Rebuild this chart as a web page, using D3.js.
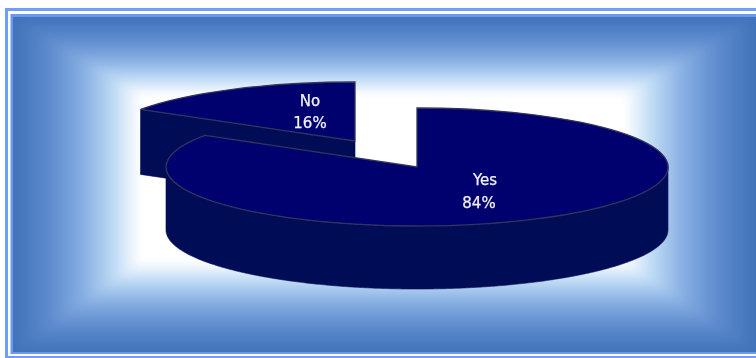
<!DOCTYPE html>
<html><head><meta charset="utf-8">
<script src="https://cdn.jsdelivr.net/npm/d3@7"></script>
<style>html,body{margin:0;padding:0;background:#fff;overflow:hidden}svg{display:block}</style>
</head><body>
<svg id="c" width="756" height="358"></svg>
<script>
const categories = ["Yes", "No"];
const seriesValues = [84, 16];
const percentLabels = ["84%", "16%"];

const svg = d3.select("#c");
const defs = svg.append("defs");
const inner = {x0: 13, y0: 17, x1: 756, y1: 352};
const glow = {x0: 140, y0: 95, x1: 625, y1: 262};
const stops = [[0, "#3f72b8"], [0.3, "#5f8ccf"], [0.55, "#86aee2"], [0.8, "#c0dcf6"], [1, "#ffffff"]];
function grad(id, x1, y1, x2, y2) {
  const g = defs.append("linearGradient").attr("id", id).attr("gradientUnits", "userSpaceOnUse")
    .attr("x1", x1).attr("y1", y1).attr("x2", x2).attr("y2", y2);
  stops.forEach(s => g.append("stop").attr("offset", s[0]).attr("stop-color", s[1]));
}
grad("gT", 0, inner.y0, 0, glow.y0);
grad("gB", 0, inner.y1, 0, glow.y1);
grad("gL", inner.x0, 0, glow.x0, 0);
grad("gR", inner.x1, 0, glow.x1, 0);
defs.append("filter").attr("id", "soft").append("feGaussianBlur").attr("stdDeviation", 0.45);
defs.append("filter").attr("id", "wide").attr("filterUnits", "userSpaceOnUse")
  .attr("x", -40).attr("y", -40).attr("width", 840).attr("height", 440)
  .append("feGaussianBlur").attr("stdDeviation", 5);
defs.append("clipPath").attr("id", "panel").append("rect")
  .attr("x", inner.x0).attr("y", inner.y0).attr("width", inner.x1 - inner.x0).attr("height", inner.y1 - inner.y0);

// page frame
svg.append("rect").attr("x", 5).attr("y", 8).attr("width", 751).attr("height", 350).attr("fill", "#6e9ef8");
svg.append("rect").attr("x", 8).attr("y", 11).attr("width", 748).attr("height", 345).attr("fill", "#ffffff");
svg.append("rect").attr("x", 10.5).attr("y", 14).attr("width", 745.5).attr("height", 340).attr("fill", "#6a98ee");

// rectangular gradient background, softened so the corner mitres melt away
const poly = pts => "M" + pts.map(p => p.join(",")).join("L") + "Z";
const I = {x0: inner.x0 - 30, y0: inner.y0 - 30, x1: inner.x1 + 30, y1: inner.y1 + 30}, G = glow;
const bg = svg.append("g").attr("clip-path", "url(#panel)").append("g").attr("filter", "url(#wide)");
bg.append("rect").attr("x", I.x0).attr("y", I.y0).attr("width", I.x1 - I.x0).attr("height", I.y1 - I.y0).attr("fill", "#3f72b8");
bg.append("rect").attr("x", G.x0).attr("y", G.y0).attr("width", G.x1 - G.x0).attr("height", G.y1 - G.y0).attr("fill", "#fff");
[["gT", [[inner.x0, inner.y0], [inner.x1, inner.y0], [G.x1, G.y0], [G.x0, G.y0]]],
 ["gB", [[inner.x0, inner.y1], [inner.x1, inner.y1], [G.x1, G.y1], [G.x0, G.y1]]],
 ["gL", [[inner.x0, inner.y0], [G.x0, G.y0], [G.x0, G.y1], [inner.x0, inner.y1]]],
 ["gR", [[inner.x1, inner.y0], [G.x1, G.y0], [G.x1, G.y1], [inner.x1, inner.y1]]]
].forEach(d => bg.append("path").attr("d", poly(d[1])).attr("fill", `url(#${d[0]})`).attr("stroke", `url(#${d[0]})`).attr("stroke-width", 0.6));

// exploded 3D pie
const radiiX = [251, 254], ry = 59, depths = [63, 65];
const centers = [[417, 167], [355, 141]];
const topColor = "#00006e", sideColor = "#030f56", lineColor = "#30345c";
const pie = d3.pie().sort(null).startAngle(0).endAngle(2 * Math.PI);
const arcs = pie(seriesValues);
const arcGen = d3.arc().innerRadius(0).outerRadius(1);
const rimPoint = (i, a) => [centers[i][0] + radiiX[i] * Math.sin(a), centers[i][1] - ry * Math.cos(a)];
const pieG = svg.append("g").attr("filter", "url(#soft)");

function drawSlice(i) {
  const c = centers[i], a = arcs[i], depth = depths[i];
  const g = pieG.append("g");
  // cut face that faces the viewer (only the back slice shows it)
  if (i === 1) {
    const e = rimPoint(i, a.startAngle);
    g.append("path").attr("d", poly([c, e, [e[0], e[1] + depth], [c[0], c[1] + depth]]))
      .attr("fill", sideColor).attr("stroke", sideColor).attr("stroke-width", 0.6);
  }
  // outer wall: the front half of the rim between 90deg and 270deg
  const lo = Math.max(a.startAngle, Math.PI / 2), hi = Math.min(a.endAngle, 3 * Math.PI / 2);
  if (hi > lo) {
    const rim = d3.range(lo, hi, 0.01).concat([hi]).map(t => rimPoint(i, t));
    const wall = rim.concat(rim.slice().reverse().map(p => [p[0], p[1] + depth]));
    g.append("path").attr("d", poly(wall)).attr("fill", sideColor).attr("stroke", sideColor).attr("stroke-width", 0.6);
  }
  // top surface
  g.append("path").attr("d", arcGen(a))
    .attr("transform", `translate(${c[0]},${c[1]}) scale(${radiiX[i]},${ry})`)
    .attr("fill", topColor).attr("stroke", lineColor).attr("stroke-width", 1.3)
    .attr("vector-effect", "non-scaling-stroke");
}
drawSlice(1);
drawSlice(0);

// labels
const labelPos = [[485, 180, 479, 203], [310, 101, 310, 123]];
const labels = svg.append("g").attr("filter", "url(#soft)");
categories.forEach((n, i) => {
  const p = labelPos[i];
  [[n, p[0], p[1]], [percentLabels[i], p[2], p[3]]].forEach(t =>
    labels.append("text").attr("x", t[1]).attr("y", t[2]).attr("dy", "0.35em").attr("text-anchor", "middle")
      .attr("font-family", "DejaVu Sans, Verdana, sans-serif").attr("font-size", 15).attr("fill", "#f2f2fa")
      .attr("stroke", "#f2f2fa").attr("stroke-width", 0.25).text(t[0]));
});
</script>
</body></html>
